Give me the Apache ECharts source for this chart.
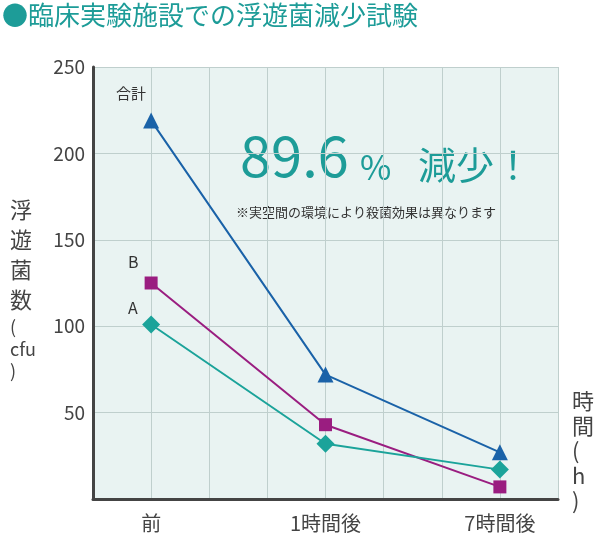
<!DOCTYPE html>
<html><head><meta charset="utf-8">
<script src="https://cdn.jsdelivr.net/npm/echarts@6/dist/echarts.min.js"></script>
<style>body{margin:0}#c{width:600px;height:540px}</style></head>
<body><div id="c"></div>
<script>
var xPos = [0, 3, 6];
var xLabels = {0: '前', 3: '1時間後', 6: '7時間後'};
var totalVals = [219, 72, 27];
var bVals = [125, 43, 7];
var aVals = [101, 32, 17];
var yTicks = [50, 100, 150, 200, 250];

function pts(v) { return v.map(function (y, i) { return [xPos[i], y]; }); }
var font = '"Noto Sans CJK JP", sans-serif';
var chart = echarts.init(document.getElementById('c'));
var option = {
    animation: false,
    grid: {left: 93, right: 42, top: 67, bottom: 41, show: true, backgroundColor: '#e9f3f2', borderWidth: 0},
    graphic: [
        {type: 'text', left: 2, top: 2, style: {text: '●臨床実験施設での浮遊菌減少試験', fill: '#1d9c98', font: '26px ' + font}},
        {type: 'text', left: 240, top: 128, style: {text: '89.6', fill: '#1d9c98', font: '56px ' + font}},
        {type: 'text', left: 360, top: 150, style: {text: '%', fill: '#1d9c98', font: '34px ' + font}},
        {type: 'text', left: 418, top: 146, style: {text: '減少！', fill: '#1d9c98', font: '38px ' + font}},
        {type: 'text', left: 236, top: 206, style: {text: '※実空間の環境により殺菌効果は異なります', fill: '#333', font: '13px ' + font}},
        {type: 'text', left: 10, top: 195, style: {text: '浮\n遊\n菌\n数', fill: '#444', font: '22px ' + font, lineHeight: 30}},
        {type: 'text', left: 10, top: 316, style: {text: '(\ncfu\n)', fill: '#444', font: '18px ' + font, lineHeight: 22, align: 'left'}},
        {type: 'text', left: 572, top: 388, style: {text: '時\n間\n(\nh\n)', fill: '#444', font: '22px ' + font, lineHeight: 25}},
        {type: 'text', left: 116, top: 86, style: {text: '合計', fill: '#333', font: '15px ' + font}},
        {type: 'text', left: 128, top: 254, style: {text: 'B', fill: '#333', font: '16px ' + font}},
        {type: 'text', left: 128, top: 300, style: {text: 'A', fill: '#333', font: '16px ' + font}}
    ],
    xAxis: {
        type: 'value', min: -1, max: 7, interval: 1,
        axisLine: {onZero: false, lineStyle: {color: '#444', width: 3}},
        axisTick: {show: false},
        splitLine: {show: true, lineStyle: {color: '#bfcfcd'}},
        axisLabel: {fontSize: 20, color: '#444', fontFamily: font, margin: 14,
            formatter: function (v) { return xLabels[v] || ''; }}
    },
    yAxis: {
        type: 'value', min: 0, max: 250, interval: 50,
        axisLine: {show: true, onZero: false, lineStyle: {color: '#444', width: 3}},
        axisTick: {show: false},
        splitLine: {lineStyle: {color: '#bfcfcd'}},
        axisLabel: {fontSize: 19, color: '#444', fontFamily: font,
            formatter: function (v) { return yTicks.indexOf(v) >= 0 ? v : ''; }}
    },
    series: [
        {name: '合計', type: 'line', data: pts(totalVals), symbol: 'triangle', symbolSize: 16,
            itemStyle: {color: '#1a62a8'}, lineStyle: {width: 2}},
        {name: 'B', type: 'line', data: pts(bVals), symbol: 'rect', symbolSize: 13,
            itemStyle: {color: '#9a1d80'}, lineStyle: {width: 2}},
        {name: 'A', type: 'line', data: pts(aVals), symbol: 'diamond', symbolSize: 18,
            itemStyle: {color: '#1ba39a'}, lineStyle: {width: 2}}
    ]
};
chart.setOption(option);
</script></body></html>
